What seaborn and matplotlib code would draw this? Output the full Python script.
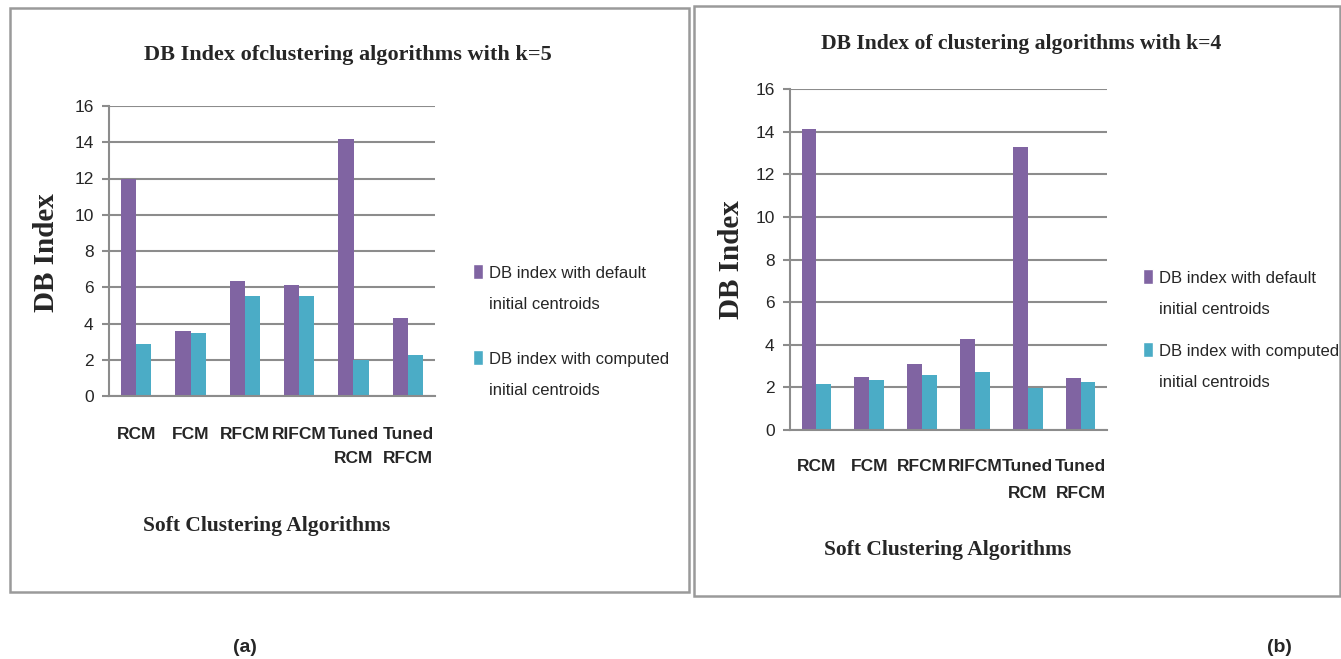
import matplotlib
matplotlib.use('Agg')
import matplotlib.pyplot as plt
import seaborn as sns
import pandas as pd
from matplotlib.patches import Rectangle, Patch
from matplotlib.legend_handler import HandlerPatch

# Chart data
algorithms = ['RCM', 'FCM', 'RFCM', 'RIFCM', 'Tuned\nRCM', 'Tuned\nRFCM']
series_names = ['DB index with default\ninitial centroids',
                'DB index with computed\ninitial centroids']
k5_default = [12.0, 3.6, 6.35, 6.1, 14.2, 4.3]
k5_computed = [2.85, 3.45, 5.5, 5.5, 2.0, 2.25]
k4_default = [14.1, 2.5, 3.1, 4.25, 13.3, 2.45]
k4_computed = [2.15, 2.35, 2.6, 2.7, 1.95, 2.25]
y_ticks = [0, 2, 4, 6, 8, 10, 12, 14, 16]

colors = ['#8064A2', '#4BACC6']
grid_col = '#8c8c8c'

W, H = 1341, 659


def fx(px):
    return px / W


def fy(py):
    return 1 - py / H


def make_df(default, computed):
    return pd.DataFrame({
        'algorithm': algorithms * 2,
        'series': [series_names[0]] * len(algorithms) + [series_names[1]] * len(algorithms),
        'db': default + computed,
    })


# legend marker sits next to the first line of a two-line label
def top_marker(legend, orig_handle, xdescent, ydescent, width, height, fontsize):
    return Rectangle((-xdescent, 0.95 * fontsize), width, 0.9 * fontsize)


sns.set_theme(style='white')
plt.rcParams['font.family'] = ['Liberation Sans', 'DejaVu Sans']

fig = plt.figure(figsize=(W / 100, H / 100), dpi=100)

# panel frames
for (l, t, r, b) in [(10, 8, 689, 592), (694, 6, 1340, 596)]:
    fig.patches.append(Rectangle((fx(l), fy(b)), fx(r) - fx(l), fy(t) - fy(b),
                                 transform=fig.transFigure, fill=False,
                                 edgecolor='#9a9a9a', linewidth=1.8))

panels = [
    dict(default=k5_default, computed=k5_computed, box=(109, 106, 435, 396),
         title='DB Index ofclustering algorithms with k=5', title_xy=(348, 55), title_fs=16,
         ylab_xy=(47, 253), xlab_xy=(267, 526), leg_xy=(465, 258), leg_sp=2.4,
         pad=22, tick_ls=1.8),
    dict(default=k4_default, computed=k4_computed, box=(790, 89, 1107, 430),
         title='DB Index of clustering algorithms with k=4', title_xy=(1021, 44), title_fs=15.6,
         ylab_xy=(731, 260), xlab_xy=(948, 550), leg_xy=(1135, 263), leg_sp=1.65,
         pad=21, tick_ls=1.95),
]

serif = 'Liberation Serif'

for p in panels:
    l, t, r, b = p['box']
    ax = fig.add_axes([fx(l), fy(b), fx(r) - fx(l), fy(t) - fy(b)])
    df = make_df(p['default'], p['computed'])
    sns.barplot(data=df, x='algorithm', y='db', hue='series', palette=colors,
                width=0.56, saturation=1, linewidth=0, legend=False, ax=ax)
    ax.set_ylim(0, 16)
    ax.set_yticks(y_ticks)
    ax.set_xlim(-0.5, len(algorithms) - 0.5)
    ax.yaxis.grid(True, color=grid_col, linewidth=1.5)
    ax.set_axisbelow(True)
    for s in ['top', 'right']:
        ax.spines[s].set_visible(False)
    for s in ['left', 'bottom']:
        ax.spines[s].set_color(grid_col)
        ax.spines[s].set_linewidth(1.5)
    ax.tick_params(axis='y', length=5, width=1.5, color=grid_col, pad=6,
                   labelsize=12.5, left=True)
    ax.tick_params(axis='x', length=0, pad=p['pad'], labelsize=12.5)
    for lab in ax.get_xticklabels():
        lab.set_fontweight('bold')
        lab.set_linespacing(p['tick_ls'])
    ax.set_xlabel('')
    ax.set_ylabel('')

    handles = [Patch(facecolor=c, label=n) for c, n in zip(colors, series_names)]
    leg = ax.legend(handles=handles, loc='upper left',
                    bbox_to_anchor=(fx(p['leg_xy'][0]), fy(p['leg_xy'][1])),
                    bbox_transform=fig.transFigure, frameon=False, borderpad=0,
                    handlelength=0.55, handleheight=0.85, handletextpad=0.4,
                    labelspacing=p['leg_sp'], fontsize=12,
                    handler_map={Patch: HandlerPatch(patch_func=top_marker)})
    for txt in leg.get_texts():
        txt.set_linespacing(2.3)

    fig.text(fx(p['title_xy'][0]), fy(p['title_xy'][1]), p['title'],
             ha='center', va='center', family=serif, fontweight='bold', fontsize=p['title_fs'])
    fig.text(fx(p['ylab_xy'][0]), fy(p['ylab_xy'][1]), 'DB Index', rotation=90,
             ha='center', va='center', family=serif, fontweight='bold', fontsize=21)
    fig.text(fx(p['xlab_xy'][0]), fy(p['xlab_xy'][1]), 'Soft Clustering Algorithms',
             ha='center', va='center', family=serif, fontweight='bold', fontsize=15.5)

fig.text(fx(245), fy(648), '(a)', ha='center', va='center', fontweight='bold', fontsize=14)
fig.text(fx(1279), fy(648), '(b)', ha='center', va='center', fontweight='bold', fontsize=14)

fig.savefig('out.png', dpi=100)
